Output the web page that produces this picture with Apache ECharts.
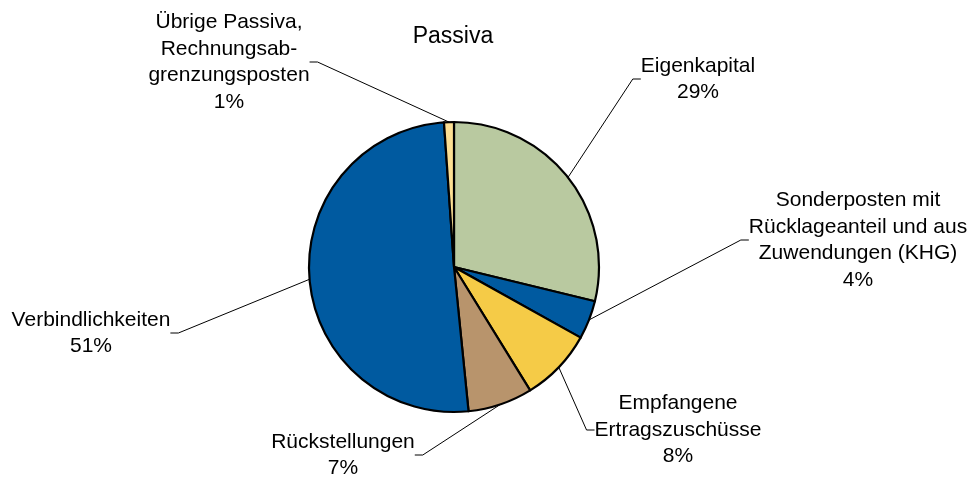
<!DOCTYPE html>
<html>
<head>
<meta charset="utf-8">
<script src="https://cdn.jsdelivr.net/npm/echarts@6/dist/echarts.min.js"></script>
<style>
  html, body { margin: 0; padding: 0; background: #fff; }
  #chart { width: 973px; height: 477px; }
</style>
</head>
<body>
<div id="chart"></div>
<script>
// Passiva – Anteile in %
const categories = [
  'Eigenkapital',
  'Sonderposten mit\nRücklageanteil und aus\nZuwendungen (KHG)',
  'Empfangene\nErtragszuschüsse',
  'Rückstellungen',
  'Verbindlichkeiten',
  'Übrige Passiva,\nRechnungsab-\ngrenzungsposten'
];
const values = [28.8, 4.3, 8.1, 7.2, 50.5, 1.1];
const colors = ['#B9C9A0', '#005AA0', '#F5CB47', '#B8946C', '#005AA0', '#FCDF93'];

// where each label block sits (center of the text block)
const labelSpots = [
  [698, 79],
  [858, 240],
  [678, 430],
  [343, 455],
  [91, 333],
  [229, 62]
];

let myChart = echarts.init(document.getElementById('chart'));

let option = {
  animation: false,
  title: {
    text: 'Passiva',
    left: 448,
    top: 20,
    textAlign: 'center',
    textStyle: {
      fontFamily: 'Liberation Sans, Arial, sans-serif',
      fontSize: 23,
      fontWeight: 'normal',
      color: '#000'
    }
  },
  series: [{
    type: 'pie',
    center: [454, 267],
    radius: 145,
    startAngle: 90,
    clockwise: true,
    percentPrecision: 0,
    avoidLabelOverlap: false,
    data: categories.map(function (c, i) {
      return { name: c, value: values[i], itemStyle: { color: colors[i] } };
    }),
    itemStyle: {
      borderColor: '#000',
      borderWidth: 2.2
    },
    label: {
      show: true,
      formatter: '{b}\n{d}%',
      fontFamily: 'Liberation Sans, Arial, sans-serif',
      fontSize: 21,
      lineHeight: 26.5,
      color: '#000',
      align: 'center'
    },
    labelLine: {
      show: true,
      length: 20,
      length2: 8,
      lineStyle: { color: '#000', width: 1 }
    },
    labelLayout: function (params) {
      let p = labelSpots[params.dataIndex];
      return { x: p[0], y: p[1], align: 'center', verticalAlign: 'middle' };
    },
    emphasis: { disabled: true }
  }]
};

myChart.setOption(option);
</script>
</body>
</html>
